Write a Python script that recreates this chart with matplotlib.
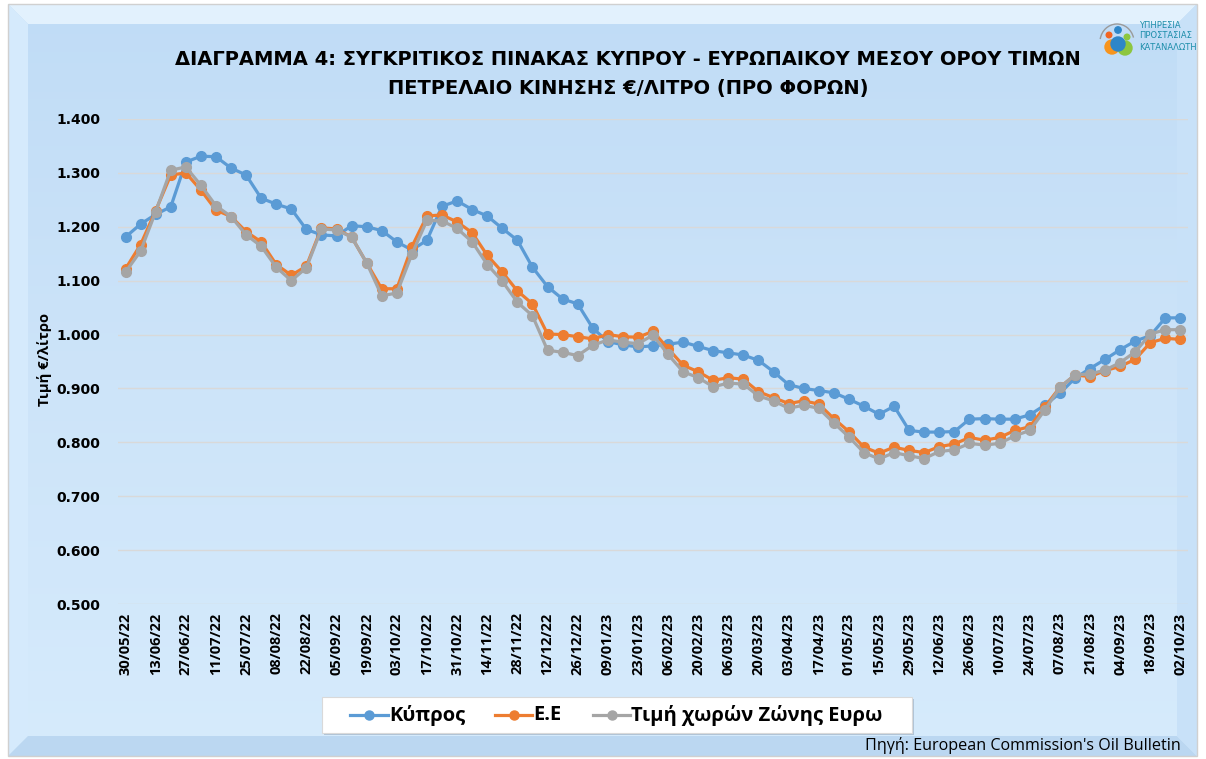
import matplotlib
matplotlib.use("Agg")
import matplotlib.pyplot as plt
import numpy as np
from matplotlib.patches import Polygon, Rectangle, Circle, Arc
from matplotlib.lines import Line2D
from matplotlib.colors import LinearSegmentedColormap

plt.rcParams['font.family'] = ['Open Sans', 'DejaVu Sans']

# ---------------- data ----------------
tick_labels = ["30/05/22", "13/06/22", "27/06/22", "11/07/22", "25/07/22", "08/08/22",
               "22/08/22", "05/09/22", "19/09/22", "03/10/22", "17/10/22", "31/10/22",
               "14/11/22", "28/11/22", "12/12/22", "26/12/22", "09/01/23", "23/01/23",
               "06/02/23", "20/02/23", "06/03/23", "20/03/23", "03/04/23", "17/04/23",
               "01/05/23", "15/05/23", "29/05/23", "12/06/23", "26/06/23", "10/07/23",
               "24/07/23", "07/08/23", "21/08/23", "04/09/23", "18/09/23", "02/10/23"]

cyprus = [1.181, 1.205, 1.223, 1.237, 1.320, 1.331, 1.330, 1.309, 1.296, 1.253,
          1.242, 1.233, 1.195, 1.185, 1.183, 1.202, 1.200, 1.193, 1.172, 1.157,
          1.175, 1.238, 1.248, 1.232, 1.220, 1.197, 1.175, 1.125, 1.089, 1.066,
          1.057, 1.012, 0.987, 0.981, 0.977, 0.979, 0.982, 0.986, 0.978, 0.970,
          0.966, 0.962, 0.952, 0.931, 0.907, 0.900, 0.896, 0.892, 0.880, 0.867,
          0.852, 0.867, 0.822, 0.819, 0.819, 0.820, 0.843, 0.844, 0.843, 0.843,
          0.851, 0.869, 0.891, 0.919, 0.937, 0.954, 0.972, 0.988, 0.998, 1.031,
          1.031]

ee = [1.122, 1.167, 1.230, 1.296, 1.300, 1.268, 1.231, 1.219, 1.191, 1.172,
      1.130, 1.110, 1.127, 1.198, 1.196, 1.181, 1.133, 1.085, 1.085, 1.163,
      1.220, 1.222, 1.209, 1.189, 1.147, 1.116, 1.081, 1.057, 1.001, 1.000,
      0.996, 0.992, 1.000, 0.996, 0.995, 1.006, 0.974, 0.943, 0.931, 0.915,
      0.920, 0.917, 0.894, 0.883, 0.872, 0.877, 0.871, 0.844, 0.820, 0.791,
      0.780, 0.791, 0.785, 0.781, 0.792, 0.797, 0.809, 0.804, 0.809, 0.822,
      0.829, 0.866, 0.902, 0.925, 0.922, 0.933, 0.941, 0.954, 0.985, 0.993,
      0.991]

eurozone = [1.116, 1.155, 1.228, 1.305, 1.311, 1.277, 1.239, 1.219, 1.185, 1.164,
            1.125, 1.100, 1.124, 1.196, 1.194, 1.181, 1.133, 1.072, 1.077, 1.149,
            1.212, 1.211, 1.197, 1.172, 1.130, 1.099, 1.060, 1.035, 0.971, 0.967,
            0.961, 0.980, 0.990, 0.986, 0.983, 0.999, 0.963, 0.931, 0.920, 0.903,
            0.910, 0.908, 0.886, 0.877, 0.863, 0.869, 0.863, 0.836, 0.810, 0.781,
            0.769, 0.781, 0.775, 0.770, 0.783, 0.786, 0.798, 0.795, 0.798, 0.812,
            0.822, 0.860, 0.902, 0.925, 0.927, 0.934, 0.948, 0.968, 1.001, 1.009,
            1.009]

series_names = ["Κύπρος", "Ε.Ε", "Τιμή χωρών Ζώνης Ευρω"]
series_colors = ["#5B9BD5", "#ED7D31", "#A5A5A5"]

title_line1 = "ΔΙΑΓΡΑΜΜΑ 4: ΣΥΓΚΡΙΤΙΚΟΣ ΠΙΝΑΚΑΣ ΚΥΠΡΟΥ - ΕΥΡΩΠΑΙΚΟΥ ΜΕΣΟΥ ΟΡΟΥ ΤΙΜΩΝ"
title_line2 = "ΠΕΤΡΕΛΑΙΟ ΚΙΝΗΣΗΣ €/ΛΙΤΡΟ (ΠΡΟ ΦΟΡΩΝ)"
ylabel = "Τιμή €/λίτρο"
source = "Πηγή: European Commission's Oil Bulletin"
logo_lines = ["ΥΠΗΡΕΣΙΑ", "ΠΡΟΣΤΑΣΙΑΣ", "ΚΑΤΑΝΑΛΩΤΗ"]

# ---------------- figure ----------------
W, H = 1206, 759
fig = plt.figure(figsize=(W / 100, H / 100), dpi=100, facecolor="white")

# background frame with gradient + bevel (pixel coordinates)
bg = fig.add_axes([0, 0, 1, 1])
bg.set_xlim(0, W)
bg.set_ylim(H, 0)
bg.axis("off")
x0, x1, y0, y1 = 8, 1197, 4, 756
grad = np.linspace(0, 1, 256).reshape(-1, 1)
cmap = LinearSegmentedColormap.from_list("bgc", ["#C0DCF6", "#CDE4F9", "#D6EBFC"])
bg.imshow(grad, extent=[x0, x1, y1, y0], cmap=cmap, aspect="auto", zorder=0)
b = 20
bg.add_patch(Polygon([[x0, y0], [x1, y0], [x1 - b, y0 + b], [x0 + b, y0 + b]],
                     closed=True, facecolor="#E2F1FD", edgecolor="none", zorder=1))
bg.add_patch(Polygon([[x0, y0], [x0 + b, y0 + b], [x0 + b, y1 - b], [x0, y1]],
                     closed=True, facecolor="#D5EAFC", edgecolor="none", zorder=1))
bg.add_patch(Polygon([[x0, y1], [x0 + b, y1 - b], [x1 - b, y1 - b], [x1, y1]],
                     closed=True, facecolor="#BBD7F1", edgecolor="none", zorder=1))
bg.add_patch(Polygon([[x1, y0], [x1, y1], [x1 - b, y1 - b], [x1 - b, y0 + b]],
                     closed=True, facecolor="#C8E1F8", edgecolor="none", zorder=1))
bg.add_patch(Rectangle((x0, y0), x1 - x0, y1 - y0, fill=False, edgecolor="#D0D0D0", lw=1, zorder=2))

# ---------------- main axes ----------------
ax = fig.add_axes([118 / W, 1 - 604 / H, (1188 - 118) / W, (604 - 119) / H])
ax.patch.set_alpha(0)
x = np.arange(len(cyprus))
for vals, name, col in zip([cyprus, ee, eurozone], series_names, series_colors):
    ax.plot(x, vals, color=col, lw=2.3, marker="o", markersize=7,
            markerfacecolor=col, markeredgecolor=col, label=name, zorder=3)

ax.set_xlim(-0.5, len(cyprus) - 0.5)
ax.set_ylim(0.5, 1.4)
yt = np.arange(0.5, 1.4001, 0.1)
ax.set_yticks(yt)
ax.set_yticklabels([f"{v:.3f}" for v in yt], fontsize=10, fontweight="bold",
                   family=["DejaVu Sans"])
ax.set_xticks(x[::2])
ax.set_xticklabels(tick_labels, rotation=90, fontsize=10.5, fontweight="bold")
ax.tick_params(axis="x", length=0, pad=6)
ax.tick_params(axis="y", length=0, pad=13)
ax.grid(axis="y", color="#D9D9D9", lw=1.0, zorder=0)
for s in ax.spines.values():
    s.set_visible(False)

fig.text(45 / W, 1 - 359 / H, ylabel, rotation=90, ha="center", va="center",
         fontsize=10.6, fontweight="bold")

fig.text(628 / W, 1 - 59.5 / H, title_line1, ha="center", va="center", fontsize=14,
         fontweight="bold", family=["DejaVu Sans"])
fig.text(628 / W, 1 - 88.5 / H, title_line2, ha="center", va="center", fontsize=14,
         fontweight="bold", family=["DejaVu Sans"])

# legend box
lx0, ly0, lx1, ly1 = 322, 697, 912, 733
bg.add_patch(Rectangle((lx0 + 2, ly0 + 2), lx1 - lx0, ly1 - ly0, facecolor="#AFC3D6",
                       edgecolor="none", zorder=3))
bg.add_patch(Rectangle((lx0, ly0), lx1 - lx0, ly1 - ly0, facecolor="white",
                       edgecolor="#D9D9D9", lw=0.8, zorder=4))
ly = (ly0 + ly1) / 2
entries = [(350, 388, 389), (495, 532, 533), (593, 630, 631)]
for (sx, ex, tx), name, col in zip(entries, series_names, series_colors):
    bg.add_line(Line2D([sx, ex], [ly, ly], color=col, lw=2.3, zorder=5))
    bg.add_line(Line2D([(sx + ex) / 2], [ly], color=col, marker="o",
                       markersize=6.5, zorder=5))
    bg.text(tx, ly, name, ha="left", va="center", fontsize=14.5,
            fontweight="bold", zorder=6)

bg.text(1181, 745, source, ha="right", va="center", fontsize=11.6, zorder=6)

# logo
bg.add_patch(Arc((1117, 42), 34, 36, theta1=190, theta2=345, color="#9A9A9A", lw=1.0, zorder=4))
bg.add_patch(Circle((1112, 47), 7, color="#F7941D", zorder=5))
bg.add_patch(Circle((1125, 48), 7, color="#8DC63F", zorder=5))
bg.add_patch(Circle((1118, 44), 7, color="#2E86C8", zorder=6))
bg.add_patch(Circle((1118, 30), 3.2, color="#2E86C8", zorder=5))
bg.add_patch(Circle((1109, 35), 2.8, color="#F26522", zorder=5))
bg.add_patch(Circle((1127, 37), 2.8, color="#8DC63F", zorder=5))
for i, t in enumerate(logo_lines):
    bg.text(1139, 25 + i * 11, t, ha="left", va="center", fontsize=6,
            color="#1C8DAA", family=["DejaVu Sans"], zorder=6)

fig.savefig("out.png", dpi=100, facecolor="white")
